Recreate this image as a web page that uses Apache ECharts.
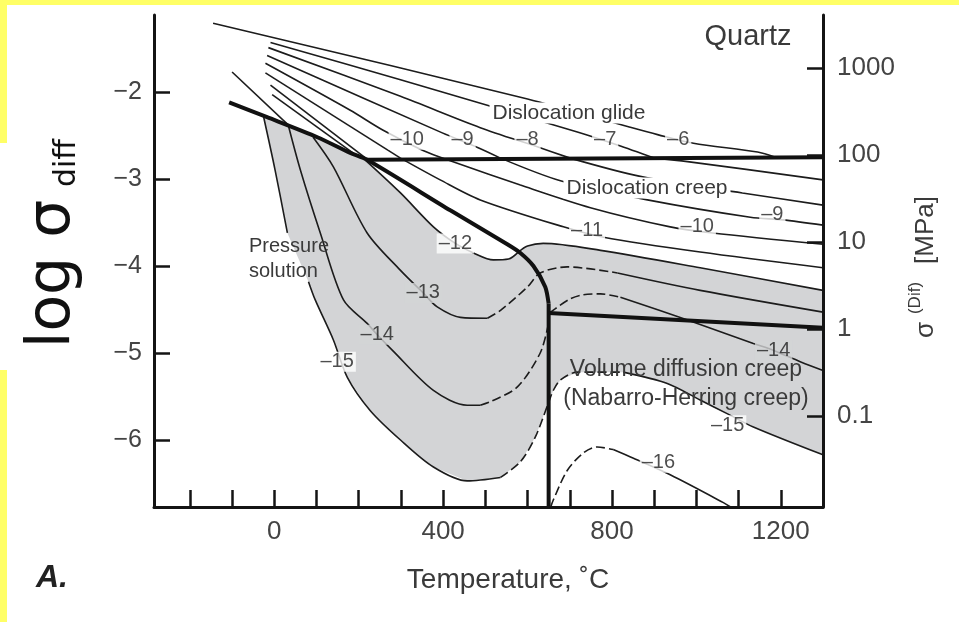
<!DOCTYPE html>
<html><head><meta charset="utf-8">
<script src="https://cdn.jsdelivr.net/npm/echarts@6/dist/echarts.min.js"></script>
<style>html,body{margin:0;padding:0;background:#fff;}#c{width:959px;height:622px;}</style>
</head><body><div id="c"></div>
<script>
// ---------- axes ----------
const xMin = -285, xMax = 1300;
const yMin = -6.77, yMax = -1.115;
const mpaOffset = 4.724; // log10(MPa) = log(sigma_diff) + offset
const xTickValues = [-200,-100,0,100,200,300,400,500,600,700,800,900,1000,1100,1200];
const xLabelValues = [0,400,800,1200];
const yTickValues = [-6,-5,-4,-3,-2];
const rightTickValues = [-1,0,1,2,3];
const rightTickLabels = ['0.1','1','10','100','1000'];

// ---------- mechanism boundaries (T °C, log sigma_diff) ----------
const boundaryPS = [[-107,-2.12],[-17,-2.29],[102,-2.52],[180,-2.70],[220,-2.78],[417,-3.36],[552,-3.75],[583,-3.85],[614,-4.00],[642,-4.24],[650,-4.43]];
const boundaryVertical = [[650,-4.43],[650,-6.77]];
const boundaryGlideCreep = [[220,-2.78],[1300,-2.75]];
const boundaryCreepDiff = [[650,-4.54],[1300,-4.71]];

// ---------- shaded band (strain rates 1e-12 .. 1e-15) ----------
const geoRateBand = [
  [-26,-2.27],[-17,-2.29],[102,-2.52],[180,-2.70],[215,-2.78],
  [299,-3.16],[377,-3.55],[429,-3.74],[472,-3.85],[519,-3.93],[555,-3.92],[578,-3.84],
  [600,-3.77],[637,-3.74],[773,-3.82],[1009,-4.02],[1300,-4.28],
  [1300,-6.17],[1135,-5.85],[1074,-5.70],[1009,-5.54],[931,-5.35],[827,-5.22],[718,-5.22],[678,-5.31],[661,-5.43],[649,-5.58],
  [618,-5.97],[583,-6.25],[536,-6.43],[457,-6.47],[377,-6.31],[299,-6.00],[227,-5.66],[173,-5.28],[140,-4.85],[97,-4.39],[81,-4.18],[31,-3.62],[2,-2.90]
];

// ---------- strain-rate contours ----------
const glideM6 = [[-145,-1.21],[600,-2.08],[839,-2.40],[908,-2.49],[993,-2.59],[1145,-2.69],[1187,-2.75]];
const glideM7 = [[-9,-1.43],[299,-1.86],[718,-2.46],[813,-2.61],[900,-2.76]];
const creepM7 = [[900,-2.76],[979,-2.80],[1300,-3.01]];
const glideM8 = [[-14,-1.49],[299,-2.05],[488,-2.41],[623,-2.63],[701,-2.76]];
const creepM8 = [[701,-2.76],[867,-2.97],[1109,-3.16],[1300,-3.30]];
const glideM9 = [[-17,-1.58],[398,-2.47],[483,-2.64],[536,-2.76]];
const creepM9 = [[536,-2.76],[678,-3.02],[884,-3.24],[1128,-3.44],[1204,-3.47],[1300,-3.53]];
const glideM10 = [[-21,-1.67],[180,-2.21],[258,-2.44],[351,-2.67],[410,-2.78]];
const creepM10 = [[410,-2.78],[583,-3.07],[749,-3.33],[938,-3.55],[1038,-3.62],[1300,-3.75]];
const glideM11 = [[-21,-1.78],[299,-2.76]];
const creepM11 = [[299,-2.76],[393,-3.01],[488,-3.24],[685,-3.55],[780,-3.67],[1009,-3.84],[1300,-4.02]];
const glideM12 = [[-9,-1.92],[222,-2.78]];
const psM12 = [[215,-2.78],[299,-3.16],[377,-3.55],[429,-3.74],[472,-3.85],[519,-3.93],[555,-3.92],[578,-3.84]];
const creepM12 = [[578,-3.84],[600,-3.77],[637,-3.74],[773,-3.82],[1009,-4.02],[1300,-4.28]];
const glideM13 = [[-5,-2.03],[192,-2.72]];
const psM13 = [[92,-2.52],[140,-2.86],[220,-3.62],[299,-4.05],[353,-4.31],[386,-4.47],[441,-4.59],[505,-4.60]];
const dashM13 = [[505,-4.60],[536,-4.51],[600,-4.24],[630,-4.08],[694,-4.01],[813,-4.08]];
const creepM13 = [[813,-4.08],[1009,-4.28],[1300,-4.53]];
const glideM14 = [[-100,-1.77],[38,-2.40]];
const psM14 = [[33,-2.38],[62,-2.90],[109,-3.62],[164,-4.39],[220,-4.66],[244,-4.79],[280,-4.97],[377,-5.43],[457,-5.60],[488,-5.60]];
const dashM14a = [[488,-5.60],[512,-5.56],[576,-5.39],[630,-5.00],[648,-4.70]];
const dashM14b = [[652,-4.54],[666,-4.49],[700,-4.38],[732,-4.33],[773,-4.32],[820,-4.36]];
const creepM14 = [[820,-4.36],[979,-4.62],[1135,-4.89],[1183,-4.97],[1246,-5.10],[1300,-5.20]];
const psM15a = [[-26,-2.27],[2,-2.90],[31,-3.62]];
const psM15b = [[81,-4.18],[97,-4.39],[140,-4.85],[173,-5.28],[227,-5.66],[299,-6.00],[377,-6.31],[457,-6.47],[536,-6.43]];
const dashM15 = [[536,-6.43],[583,-6.25],[618,-5.97],[649,-5.58],[661,-5.43],[678,-5.31],[718,-5.22],[827,-5.22]];
const diffM15 = [[827,-5.22],[931,-5.35],[1009,-5.54],[1074,-5.70],[1135,-5.85],[1300,-6.17]];
const dashM16 = [[655,-6.77],[661,-6.69],[694,-6.35],[732,-6.15],[765,-6.08],[803,-6.11]];
const diffM16 = [[803,-6.11],[851,-6.21],[938,-6.40],[1064,-6.72],[1081,-6.77]];

// ---------- contour labels ----------
const labelsOnWhite = [
  [315,-2.55,'\u201310'],[446,-2.55,'\u20139'],[600,-2.55,'\u20138'],[784,-2.55,'\u20137'],[957,-2.55,'\u20136'],
  [741,-3.59,'\u201311'],[1002,-3.55,'\u201310'],[1180,-3.41,'\u20139'],
  [429,-3.74,'\u201312'],[149,-5.10,'\u201315'],[910,-6.26,'\u201316'],[1074,-5.83,'\u201315']
];
const labelsOnGray = [
  [353,-4.31,'\u201313'],[244,-4.79,'\u201314'],[1183,-4.97,'\u201314']
];

const INK = '#1c1c1c';
const GRAY = '#d3d4d6';
const TXT = '#3a3a3a';

function contour(data, dashed, smooth) {
  return {
    type: 'line', data: data, showSymbol: false, symbol: 'none', smooth: smooth === undefined ? 0.3 : smooth,
    lineStyle: { color: INK, width: 1.6, type: dashed ? [9, 4] : 'solid' },
    z: 3, silent: true, animation: false
  };
}
function thick(data) {
  return {
    type: 'line', data: data, showSymbol: false, symbol: 'none', smooth: 0.25,
    lineStyle: { color: '#111', width: 4 }, z: 4, silent: true, animation: false
  };
}
function labels(data, bg) {
  return {
    type: 'scatter', data: data, symbolSize: 0, z: 6, silent: true, animation: false,
    label: { show: true, position: 'inside', formatter: p => p.data[2], fontSize: 20,
      fontFamily: 'Liberation Sans', color: '#222', backgroundColor: bg, padding: [0, 2] }
  };
}

const series = [
  {
    type: 'custom', z: 1, silent: true, animation: false,
    data: [[geoRateBand[0][0], geoRateBand[0][1]]],
    renderItem: function (params, api) {
      const pts = geoRateBand.map(p => api.coord(p));
      return { type: 'polygon', shape: { points: pts }, style: { fill: GRAY, stroke: null } };
    }
  },
  contour(glideM6), contour(glideM7), contour(creepM7), contour(glideM8), contour(creepM8),
  contour(glideM9), contour(creepM9), contour(glideM10), contour(creepM10),
  contour(glideM11), contour(creepM11), contour(glideM12), contour(psM12), contour(creepM12),
  contour(glideM13), contour(psM13), contour(dashM13, true), contour(creepM13),
  contour(glideM14), contour(psM14), contour(dashM14a, true), contour(dashM14b, true), contour(creepM14),
  contour(psM15a), contour(psM15b), contour(dashM15, true), contour(diffM15),
  contour(dashM16, true), contour(diffM16),
  thick(boundaryPS), thick(boundaryVertical), thick(boundaryGlideCreep), thick(boundaryCreepDiff),
  labels(labelsOnWhite, '#ffffff'), labels(labelsOnGray, GRAY)
];

const axisLineStyle = { color: '#141414', width: 3 };
const tickStyle = { color: '#141414', width: 2.5 };
const labelFont = { fontFamily: 'Liberation Sans', color: '#444', fontSize: 25 };

const option = {
  backgroundColor: '#ffffff',
  animation: false,
  grid: { left: 154, right: 136, top: 15, bottom: 115, containLabel: false },
  xAxis: {
    type: 'value', min: xMin, max: xMax, z: 10,
    axisLine: { show: true, onZero: false, lineStyle: axisLineStyle },
    axisTick: { show: true, inside: true, length: 17, customValues: xTickValues, lineStyle: tickStyle },
    axisLabel: { customValues: xLabelValues, margin: 12, fontSize: 26, fontFamily: 'Liberation Sans', color: '#444',
      formatter: v => String(v) },
    splitLine: { show: false }
  },
  yAxis: [
    {
      type: 'value', min: yMin, max: yMax, position: 'left', z: 10,
      axisLine: { show: true, onZero: false, lineStyle: axisLineStyle },
      axisTick: { show: true, inside: true, length: 16, customValues: yTickValues, lineStyle: tickStyle },
      axisLabel: Object.assign({ customValues: yTickValues, margin: 12,
        formatter: v => String(v).replace('-', '\u2212') }, labelFont),
      splitLine: { show: false }
    },
    {
      type: 'value', min: yMin + mpaOffset, max: yMax + mpaOffset, position: 'right', z: 10,
      axisLine: { show: true, onZero: false, lineStyle: axisLineStyle },
      axisTick: { show: true, inside: true, length: 16, customValues: rightTickValues, lineStyle: tickStyle },
      axisLabel: Object.assign({ customValues: rightTickValues, margin: 14,
        formatter: v => rightTickLabels[rightTickValues.indexOf(Math.round(v))] }, labelFont, {fontSize: 26}),
      splitLine: { show: false }
    }
  ],
  series: series,
  graphic: [
    { type: 'rect', shape: { x: 0, y: 0, width: 959, height: 5 }, style: { fill: '#ffff66' }, z: 100 },
    { type: 'rect', shape: { x: 0, y: 0, width: 7, height: 143 }, style: { fill: '#ffff66' }, z: 100 },
    { type: 'rect', shape: { x: 0, y: 370, width: 7, height: 252 }, style: { fill: '#ffff66' }, z: 100 },
    { type: 'text', x: 53, y: 274, rotation: Math.PI / 2, z: 100,
      style: { text: 'log \u03c3', fontSize: 60, fontFamily: 'DejaVu Sans', fill: '#111', textAlign: 'center', textVerticalAlign: 'middle' } },
    { type: 'text', x: 67, y: 163, rotation: Math.PI / 2, z: 100,
      style: { text: 'diff', fontSize: 30, fontFamily: 'DejaVu Sans', fill: '#111', textAlign: 'center', textVerticalAlign: 'middle' } },
    { type: 'text', x: 926, y: 330, rotation: Math.PI / 2, z: 100,
      style: { text: '\u03c3', fontSize: 26, fontFamily: 'Liberation Sans', fill: TXT, textAlign: 'center', textVerticalAlign: 'middle' } },
    { type: 'text', x: 915, y: 298, rotation: Math.PI / 2, z: 100,
      style: { text: '(Dif)', fontSize: 17, fontFamily: 'Liberation Sans', fill: TXT, textAlign: 'center', textVerticalAlign: 'middle' } },
    { type: 'text', x: 926, y: 230, rotation: Math.PI / 2, z: 100,
      style: { text: '[MPa]', fontSize: 26, fontFamily: 'Liberation Sans', fill: TXT, textAlign: 'center', textVerticalAlign: 'middle' } },
    { type: 'text', x: 748, y: 37, z: 100,
      style: { text: 'Quartz', fontSize: 29, fontFamily: 'Liberation Sans', fill: TXT, textAlign: 'center', textVerticalAlign: 'middle' } },
    { type: 'text', x: 569, y: 113, z: 100,
      style: { text: 'Dislocation glide', fontSize: 21, fontFamily: 'Liberation Sans', fill: TXT, textAlign: 'center', textVerticalAlign: 'middle', backgroundColor: '#fff', padding: [0, 3] } },
    { type: 'text', x: 647, y: 188, z: 100,
      style: { text: 'Dislocation creep', fontSize: 21, fontFamily: 'Liberation Sans', fill: TXT, textAlign: 'center', textVerticalAlign: 'middle', backgroundColor: '#fff', padding: [0, 3] } },
    { type: 'text', x: 249, y: 246, z: 100,
      style: { text: 'Pressure', fontSize: 20, fontFamily: 'Liberation Sans', fill: TXT, textAlign: 'left', textVerticalAlign: 'middle' } },
    { type: 'text', x: 249, y: 271, z: 100,
      style: { text: 'solution', fontSize: 20, fontFamily: 'Liberation Sans', fill: TXT, textAlign: 'left', textVerticalAlign: 'middle' } },
    { type: 'text', x: 686, y: 370, z: 100,
      style: { text: 'Volume diffusion creep', fontSize: 23, fontFamily: 'Liberation Sans', fill: TXT, textAlign: 'center', textVerticalAlign: 'middle' } },
    { type: 'text', x: 686, y: 399, z: 100,
      style: { text: '(Nabarro-Herring creep)', fontSize: 23, fontFamily: 'Liberation Sans', fill: TXT, textAlign: 'center', textVerticalAlign: 'middle' } },
    { type: 'text', x: 508, y: 580, z: 100,
      style: { text: 'Temperature, \u02daC', fontSize: 28, fontFamily: 'Liberation Sans', fill: TXT, textAlign: 'center', textVerticalAlign: 'middle' } },
    { type: 'text', x: 52, y: 578, z: 100,
      style: { text: 'A.', fontSize: 32, fontWeight: 'bold', fontStyle: 'italic', fontFamily: 'Liberation Sans', fill: '#222', textAlign: 'center', textVerticalAlign: 'middle' } }
  ]
};

const chart = echarts.init(document.getElementById('c'), null, { renderer: 'canvas' });
chart.setOption(option);
</script></body></html>
